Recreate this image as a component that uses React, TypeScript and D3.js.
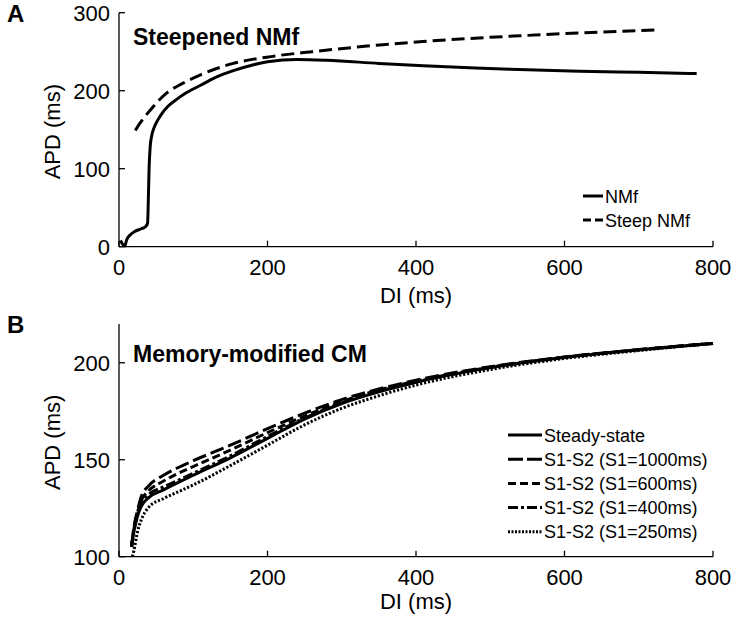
import React from 'react'
import { scaleLinear, line, curveMonotoneX } from 'd3'

// Panel A: restitution curves
const nmfDI = [2, 5, 8, 10, 15, 22, 30, 36, 38.5, 39.5, 40.5, 42, 44, 47, 52, 58, 66, 75, 90, 110, 130, 155, 180, 200, 240, 280, 350, 410, 480, 550, 620, 700, 778]
const nmfAPD = [8, 3, 1, 8, 15, 20, 23, 26, 30, 60, 100, 128, 142, 152, 162, 171, 180, 187, 197, 207, 217, 226, 233, 237, 240, 239, 235, 232, 229, 227, 225, 223.5, 222]
const steepDI = [22, 28, 42, 64, 85, 109, 154, 199, 260, 351, 409, 531, 620, 724]
const steepAPD = [149, 158, 175, 197, 209, 220, 235, 243, 250, 258.6, 263, 270, 274, 278]

// Panel B: memory-modified CM
const diB = [17, 20, 25, 30, 40, 60, 80, 100, 150, 200, 250, 300, 350, 400, 500, 600, 700, 800]
const diB250 = [18, 20, 25, 30, 40, 60, 80, 100, 150, 200, 250, 300, 350, 400, 500, 600, 700, 800]
const steadyAPD = [106, 113, 121, 126, 130.5, 134.5, 138.3, 142, 151, 161, 171, 179, 185, 190, 197.5, 202.8, 206.7, 210]
const s1000APD = [106, 115, 124, 131, 136.5, 142, 146, 149.5, 157.5, 166, 174, 181, 186.5, 191, 198, 203, 206.8, 210]
const s600APD = [105, 114, 123, 129, 134, 139, 143, 146.5, 155, 164, 172.5, 180, 186, 190.5, 197.7, 202.9, 206.7, 210]
const s400APD = [105, 113, 121.5, 127, 132, 136, 139.5, 143, 152, 162, 171.5, 179.3, 185.3, 190.2, 197.5, 202.8, 206.7, 210]
const s250APD = [100, 103, 113, 119, 125.5, 130, 133.5, 137, 147, 157.5, 168, 176.5, 183, 188.5, 196.5, 202.2, 206.3, 210]

const xTicks = [0, 200, 400, 600, 800]
const yTicksA = [0, 100, 200, 300]
const yTicksB = [100, 150, 200]

const legendA = ['NMf', 'Steep NMf']
const legendB = ['Steady-state', 'S1-S2 (S1=1000ms)', 'S1-S2 (S1=600ms)', 'S1-S2 (S1=400ms)', 'S1-S2 (S1=250ms)']

const font = '"Liberation Sans", Arial, sans-serif'
const left = 119
const right = 713

const Axes = ({ x, y, yTicks, labelGap }) => {
  const [y0, y1] = y.range()
  return (
    <g fontFamily={font} fontSize={22} fill="#000">
      <line x1={left} x2={left} y1={y0} y2={y1} stroke="#000" strokeWidth={1.3} />
      <line x1={left} x2={right} y1={y0} y2={y0} stroke="#000" strokeWidth={1.3} />
      {xTicks.map(t => (
        <g key={t}>
          <line x1={x(t)} x2={x(t)} y1={y0} y2={y0 - 6} stroke="#000" strokeWidth={1.3} />
          <text x={x(t)} y={y0 + 28.3} textAnchor="middle">{t}</text>
        </g>
      ))}
      {yTicks.map(t => (
        <g key={t}>
          <line x1={left} x2={left + 6} y1={y(t)} y2={y(t)} stroke="#000" strokeWidth={1.3} />
          <text x={left - 9} y={y(t) + 7.9} textAnchor="end">{t}</text>
        </g>
      ))}
      <text x={(left + right) / 2} y={y0 + labelGap} textAnchor="middle">DI (ms)</text>
      <text transform={`translate(60,${(y0 + y1) / 2 + 2}) rotate(-90)`} textAnchor="middle">APD (ms)</text>
    </g>
  )
}

export default function App() {
  const x = scaleLinear().domain([0, 800]).range([left, right])
  const yA = scaleLinear().domain([0, 300]).range([246.7, 12.7])
  const yB = scaleLinear().domain([100, 220]).range([556.7, 324])

  const pathA = (xs, ys) => line().curve(curveMonotoneX).x((d, i) => x(xs[i])).y(d => yA(d))(ys)
  const pathB = (xs, ys) => line().curve(curveMonotoneX).x((d, i) => x(xs[i])).y(d => yB(d))(ys)

  const seriesA = [
    { d: pathA(nmfDI, nmfAPD), dash: null },
    { d: pathA(steepDI, steepAPD), dash: '13,6' },
  ]
  const legendDashA = [null, '8,4']

  const seriesB = [
    { d: pathB(diB, steadyAPD), dash: null },
    { d: pathB(diB, s1000APD), dash: '14,5' },
    { d: pathB(diB, s600APD), dash: '8,4' },
    { d: pathB(diB, s400APD), dash: '10,3,3,3' },
    { d: pathB(diB250, s250APD), dash: '2.2,1.8' },
  ]
  const legendDashB = [null, '15,4', '8,4', '10,3,3,3', '2,1.5']

  return (
    <svg width={750} height={627} style={{ position: 'absolute', left: 0, top: 0, background: '#fff' }}>
      {/* Panel A */}
      <text x={7} y={22} fontFamily={font} fontWeight="bold" fontSize={24}>A</text>
      <Axes x={x} y={yA} yTicks={yTicksA} labelGap={55.8} />
      <text x={133} y={44.5} fontFamily={font} fontWeight="bold" fontSize={23}>Steepened NMf</text>
      {seriesA.map((s, i) => (
        <path key={i} d={s.d} fill="none" stroke="#000" strokeWidth={3} strokeDasharray={s.dash || undefined} />
      ))}
      {legendA.map((l, i) => (
        <g key={l} fontFamily={font} fontSize={18}>
          <line x1={583} x2={603} y1={196 + i * 24} y2={196 + i * 24} stroke="#000" strokeWidth={3}
            strokeDasharray={legendDashA[i] || undefined} />
          <text x={605} y={196 + i * 24 + 6.5}>{l}</text>
        </g>
      ))}

      {/* Panel B */}
      <text x={7} y={333} fontFamily={font} fontWeight="bold" fontSize={24}>B</text>
      <Axes x={x} y={yB} yTicks={yTicksB} labelGap={52.5} />
      <text x={133} y={361.5} fontFamily={font} fontWeight="bold" fontSize={23}>Memory-modified CM</text>
      {seriesB.map((s, i) => (
        <path key={i} d={s.d} fill="none" stroke="#000" strokeWidth={3} strokeDasharray={s.dash || undefined} />
      ))}
      {legendB.map((l, i) => (
        <g key={l} fontFamily={font} fontSize={18}>
          <line x1={508} x2={542} y1={435 + i * 24.2} y2={435 + i * 24.2} stroke="#000" strokeWidth={3}
            strokeDasharray={legendDashB[i] || undefined} />
          <text x={544} y={435 + i * 24.2 + 6.5}>{l}</text>
        </g>
      ))}
    </svg>
  )
}
